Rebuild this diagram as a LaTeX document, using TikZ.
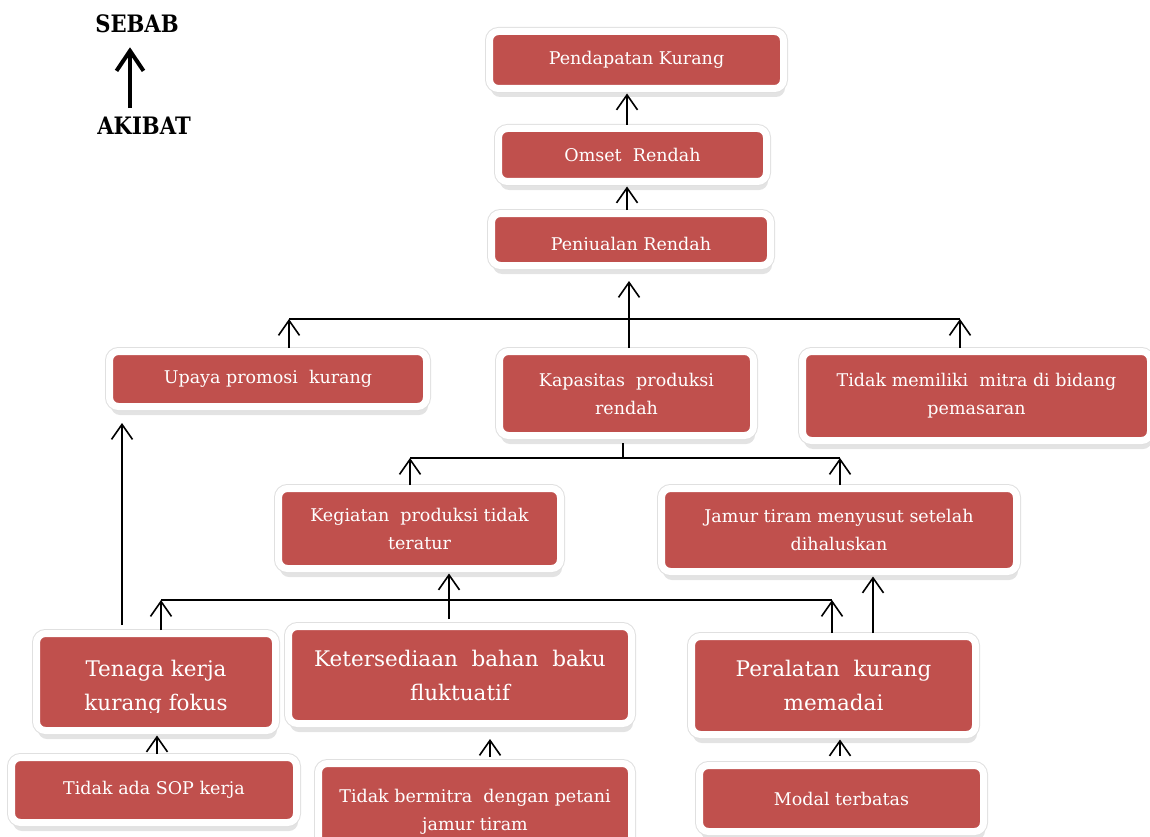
\documentclass[tikz,border=0pt]{standalone}
\usepackage{fontspec}
\setmainfont{DejaVu Serif}
\newfontfamily\legfont[FakeStretch=0.88]{DejaVu Serif}
\usetikzlibrary{arrows.meta, shadows}
\definecolor{boxred}{RGB}{192,80,77}
\tikzset{
  box/.style      = {shape=rectangle, rounded corners=9pt,
                     draw=white, line width=7pt, fill=boxred,
                     text=white, align=center,
                     drop shadow={shadow xshift=1.5pt, shadow yshift=-8.5pt, opacity=0.22},
                     preaction={draw=black!12, line width=9pt}},
  smallbox/.style = {box, font=\fontsize{17.5}{28}\selectfont},
  bigbox/.style   = {box, font=\fontsize{21.5}{34}\selectfont},
  txt/.style      = {text=white, align=center},
  arr/.style      = {draw, line width=1.6pt, -{Straight Barb[length=15pt, width=21pt]}},
  uparr/.style    = {arr, shorten >=1.5pt},
  busline/.style  = {draw, line width=1.6pt},
  leg/.style      = {font=\legfont\fontsize{24}{28}\selectfont\bfseries, inner sep=0pt},
  legarr/.style   = {draw, line width=4pt, -{Straight Barb[length=20pt, width=27pt]}}
}
\begin{document}
\begin{tikzpicture}[x=1pt, y=-1pt]
\useasboundingbox (0,0) rectangle (1150,837);

% legend
\node[leg] (sebab) at (137,24) {SEBAB};
\node[leg] (akibat) at (144,126) {AKIBAT};
\coordinate (xl) at (130,80);
\draw[legarr, shorten <=9pt, shorten >=14pt] (akibat.north -| xl) -- (sebab.south -| xl);

% top chain
\node[smallbox, minimum width=294pt, minimum height=57pt] (pend) at (636.5,60) {Pendapatan Kurang};
\node[smallbox, minimum width=268pt, minimum height=53pt] (omset) at (632.5,155) {Omset~ Rendah};
\node[smallbox, minimum width=279pt, minimum height=52pt] (penj) at (631,239.5) {};
\begin{scope}
  \clip (495,217) rectangle (767,249.5);
  \node[txt, font=\fontsize{17.5}{28}\selectfont] (penjtext) at (631,246) {Penjualan Rendah};
\end{scope}

% second row
\node[smallbox, minimum width=317pt, minimum height=55pt] (upaya) at (268,379) {Upaya promosi~ kurang};
\node[smallbox, minimum width=254pt, minimum height=84pt] (kapas) at (626.5,393.5) {Kapasitas~ produksi\\rendah};
\node[smallbox, minimum width=348pt, minimum height=89pt] (mitra) at (976.5,396) {Tidak memiliki~ mitra di bidang\\pemasaran};

% third row
\node[smallbox, minimum width=282pt, minimum height=80pt] (kegiat) at (419.5,528.5) {Kegiatan~ produksi tidak\\teratur};
\node[smallbox, minimum width=355pt, minimum height=83pt] (jamur) at (839,530) {Jamur tiram menyusut setelah\\dihaluskan};

% big boxes
\node[bigbox, minimum width=239pt, minimum height=97pt] (tenaga) at (156,682) {};
\begin{scope}
  \clip (40,637) rectangle (272,712);
  \node[txt, font=\fontsize{21.5}{34}\selectfont] (tenagatext) at (156,688) {Tenaga kerja\\kurang fokus};
\end{scope}
\node[bigbox, minimum width=343pt, minimum height=97pt] (sedia) at (460,675) {Ketersediaan~ bahan~ baku\\fluktuatif};
\node[bigbox, minimum width=284pt, minimum height=98pt] (alat) at (833.5,685.5) {Peralatan~ kurang\\memadai};

% bottom row
\node[smallbox, minimum width=285pt, minimum height=65pt] (sop) at (154,790) {Tidak ada SOP kerja};
\node[smallbox, minimum width=313pt, minimum height=96pt] (bermitra) at (475,811.5) {Tidak bermitra~ dengan petani\\jamur tiram};
\node[smallbox, minimum width=284pt, minimum height=66pt] (modal) at (841.5,798.5) {Modal terbatas};

% top arrows
\coordinate (xo) at (627,100);
\draw[uparr] (omset.north -| xo) -- (pend.south -| xo);
\draw[uparr] (penj.north -| xo) -- (omset.south -| xo);

% bus 1
\coordinate (b1w) at (289,319);
\coordinate (b1m) at (629,319);
\coordinate (b1e) at (960,319);
\draw[busline] (b1w) -- (b1e);
\draw[arr] (upaya.north -| b1w) -- (b1w);
\draw[arr] (mitra.north -| b1e) -- (b1e);
\draw[arr, shorten >=12pt] (kapas.north -| b1m) -- (penj.south -| b1m);

% bus 2
\coordinate (b2w) at (410,458);
\coordinate (b2m) at (623,458);
\coordinate (b2e) at (840,458);
\draw[busline] (b2w) -- (b2e);
\draw[busline, shorten <=4pt] (kapas.south -| b2m) -- (b2m);
\draw[arr] (kegiat.north -| b2w) -- (b2w);
\draw[arr] (jamur.north -| b2e) -- (b2e);

% bus 3
\coordinate (b3w) at (161,600);
\coordinate (b3e) at (832,600);
\draw[busline] (b3w) -- (b3e);
\draw[arr] (tenaga.north -| b3w) -- (b3w);
\draw[arr] (alat.north -| b3e) -- (b3e);

\coordinate (xt) at (122,600);
\coordinate (xs) at (449,600);
\coordinate (xa) at (873,600);
\draw[arr, shorten <=5pt, shorten >=13pt] (tenaga.north -| xt) -- (upaya.south -| xt);
\draw[uparr, shorten <=4pt] (sedia.north -| xs) -- (kegiat.south -| xs);
\draw[uparr] (alat.north -| xa) -- (jamur.south -| xa);

% lowest arrows
\coordinate (xsop) at (157,750);
\coordinate (xber) at (490,750);
\coordinate (xmod) at (840,750);
\draw[uparr] (sop.north -| xsop) -- (tenaga.south -| xsop);
\draw[arr, shorten <=3pt, shorten >=12pt] (bermitra.north -| xber) -- (sedia.south -| xber);
\draw[uparr, shorten <=6pt] (modal.north -| xmod) -- (alat.south -| xmod);
\end{tikzpicture}
\end{document}
